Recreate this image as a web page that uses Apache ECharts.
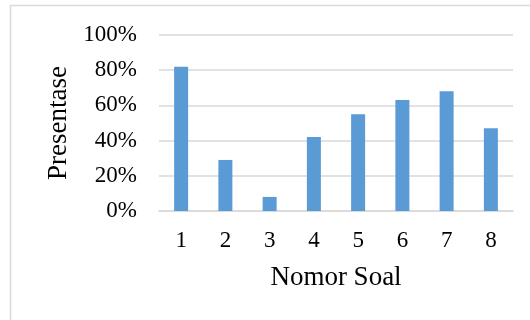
<!DOCTYPE html>
<html><head><meta charset="utf-8">
<script src="https://cdn.jsdelivr.net/npm/echarts@6/dist/echarts.min.js"></script>
<style>html,body{margin:0;padding:0;background:#fff}#c{width:530px;height:320px}</style>
</head><body><div id="c"></div>
<script>
const categories = ['1','2','3','4','5','6','7','8'];
const values = [82, 29, 8, 42, 55, 63, 68, 47];
const yTicks = [0, 20, 40, 60, 80, 100];
const xTitle = 'Nomor Soal';
const yTitle = 'Presentase';

const chart = echarts.init(document.getElementById('c'), null, {renderer:'canvas'});
const font = '"Liberation Serif", "Times New Roman", serif';
chart.setOption({
  animation:false,
  graphic:[{type:'rect', shape:{x:10.5, y:5.5, width:540, height:340}, style:{fill:'none', stroke:'#d9d9d9', lineWidth:1.5}, silent:true}],
  grid:{left:159, right:17, top:35, bottom:109},
  xAxis:{type:'category', data:categories, name:xTitle, nameLocation:'middle', nameGap:53,
    nameTextStyle:{fontFamily:font, fontSize:27, color:'#000'},
    axisLine:{lineStyle:{color:'#d9d9d9', width:1.5}}, axisTick:{show:false},
    axisLabel:{fontFamily:font, fontSize:23, color:'#000', margin:18}},
  yAxis:{type:'value', min:yTicks[0], max:yTicks[yTicks.length-1], interval:20,
    name:yTitle, nameLocation:'middle', nameGap:81, nameRotate:90,
    nameTextStyle:{fontFamily:font, fontSize:27, color:'#000'},
    axisLine:{show:false}, axisTick:{show:false},
    axisLabel:{fontFamily:font, fontSize:23, color:'#000', margin:22, formatter:'{value}%'},
    splitLine:{lineStyle:{color:'#d9d9d9', width:1.5}}},
  series:[{type:'bar', data:values, barWidth:14, itemStyle:{color:'#5b9bd5'}}]
});
</script></body></html>
